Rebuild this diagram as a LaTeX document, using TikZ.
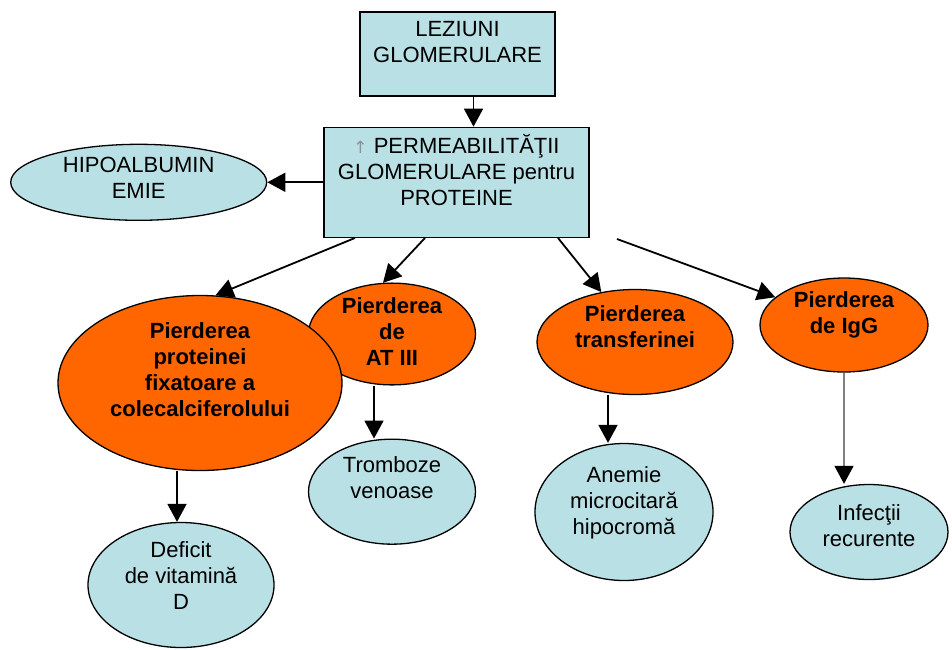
\documentclass[tikz,border=0pt]{standalone}
\usepackage{fontspec}
\setmainfont{Liberation Sans}
\newfontfamily\arrowfont{DejaVu Sans}
\usetikzlibrary{shapes.geometric, arrows.meta, positioning, calc}
\definecolor{paleblue}{RGB}{185,224,228}
\definecolor{lossorange}{RGB}{255,102,0}

\begin{document}
\begin{tikzpicture}[
    x=1pt, y=-1pt,
    font=\fontsize{22}{26}\selectfont,
    cause/.style={rectangle, draw, line width=1.3pt, fill=paleblue, align=center, inner sep=2pt},
    effect/.style={ellipse, draw, line width=1.3pt, fill=paleblue, align=center, inner sep=0pt},
    loss/.style={ellipse, draw, line width=1.3pt, fill=lossorange, align=center, inner sep=0pt, font=\fontsize{22}{26}\selectfont\bfseries},
    lift/.style={text depth=#1},
    arrow/.style={-{Triangle[length=18pt,width=19pt]}, line width=1.8pt},
    thinarrow/.style={-{Triangle[length=18pt,width=19pt,color=black]}, line width=1.3pt, draw=gray}
]

\useasboundingbox (0,0) rectangle (952,649);

\node[cause, minimum width=195pt, minimum height=84pt, lift=25pt] (lez) at (457.5,54) {LEZIUNI\\GLOMERULARE};
\node[cause, minimum width=265pt, minimum height=110pt, lift=24pt, below=30pt of lez, xshift=-1pt] (perm) {{\color{gray!80!paleblue}\arrowfont\fontsize{17}{17}\selectfont↑} PERMEABILITĂŢII\\GLOMERULARE pentru\\PROTEINE};
\node[effect, minimum width=256pt, minimum height=76pt, lift=8pt, left=56pt of perm] (hipo) {HIPOALBUMIN\\EMIE};

\node[loss, minimum width=167pt, minimum height=101pt, lift=4pt] (at3) at (392,334) {Pierderea\\de\\AT III};
\node[loss, minimum width=284pt, minimum height=175pt, lift=26pt] (prot) at (200,383) {Pierderea\\proteinei\\fixatoare a\\colecalciferolului};
\node[loss, minimum width=196pt, minimum height=105pt, lift=30pt] (transf) at (635,342) {Pierderea\\transferinei};
\node[loss, minimum width=168pt, minimum height=94pt, lift=24pt] (igg) at (844,325) {Pierderea\\de IgG};

\node[effect, minimum width=186pt, minimum height=125pt, lift=18pt] (vitd) at (181,585) {Deficit\\de vitamină\\D};
\node[effect, minimum width=167pt, minimum height=105pt, lift=28pt, below=53pt of at3] (tromb) {Tromboze\\venoase};
\node[effect, minimum width=178pt, minimum height=137pt, lift=22pt] (anemie) at (624,512) {Anemie\\microcitară\\hipocromă};
\node[effect, minimum width=158pt, minimum height=95pt, lift=12pt] (infect) at (869,532) {Infecţii\\recurente};

\coordinate (igfrom) at (617,239);

\draw[arrow] ([xshift=16pt]lez.south) -- ([xshift=16pt]lez.south |- perm.north);
\draw[arrow] (perm.west) -- (hipo.east);
\draw[arrow] ([xshift=-101.5pt]perm.south) -- (prot.80);
\draw[arrow] ([xshift=-31.5pt]perm.south) -- (at3.100);
\draw[arrow] ([xshift=101.5pt]perm.south) -- (transf.124);
\draw[arrow] (igfrom) -- (igg.158);

\draw[arrow] ([xshift=-4pt]vitd.north |- prot.south) -- ([xshift=-4pt]vitd.north);
\draw[arrow] ([xshift=-18pt]at3.south) -- ([xshift=-18pt]at3.south |- tromb.north);
\draw[arrow] ([xshift=-27pt]transf.south) -- ([xshift=-27pt]transf.south |- anemie.north);
\draw[thinarrow] (igg.south) -- (igg.south |- infect.north);

\end{tikzpicture}
\end{document}
